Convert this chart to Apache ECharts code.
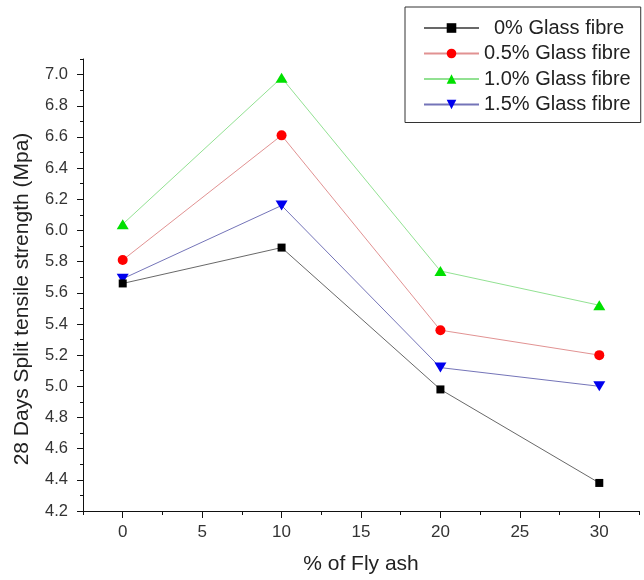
<!DOCTYPE html>
<html>
<head>
<meta charset="utf-8">
<script src="https://cdn.jsdelivr.net/npm/echarts@6/dist/echarts.min.js"></script>
<style>
html,body{margin:0;padding:0;background:#fff;}
#chart{width:644px;height:580px;}
</style>
</head>
<body>
<div id="chart"></div>
<script>
// ---- data ----
const flyAsh = [0, 10, 20, 30];
const seriesNames = ['0% Glass fibre', '0.5% Glass fibre', '1.0% Glass fibre', '1.5% Glass fibre'];
const gf00 = [5.66, 5.89, 4.98, 4.38];
const gf05 = [5.81, 6.61, 5.36, 5.20];
const gf10 = [6.04, 6.98, 5.74, 5.52];
const gf15 = [5.69, 6.16, 5.12, 5.00];
const xMajorTicks = [0, 5, 10, 15, 20, 25, 30];
const xMinorTicks = [-2.5, 2.5, 7.5, 12.5, 17.5, 22.5, 27.5, 32.5];
const yMajorTicks = [4.2, 4.4, 4.6, 4.8, 5.0, 5.2, 5.4, 5.6, 5.8, 6.0, 6.2, 6.4, 6.6, 6.8, 7.0];
const yMinorTicks = [4.3, 4.5, 4.7, 4.9, 5.1, 5.3, 5.5, 5.7, 5.9, 6.1, 6.3, 6.5, 6.7, 6.9, 7.1];

const FONT = '"Liberation Sans", Arial, sans-serif';
const axisColor = '#111';

function pairs(vals) { return flyAsh.map((x, i) => [x, vals[i]]); }

const chart = echarts.init(document.getElementById('chart'), null, {renderer: 'canvas'});

const styles = [
  {symbol: 'rect', size: 8, color: '#000000', line: 'rgba(40,40,40,0.7)'},
  {symbol: 'circle', size: 10, color: '#ff0000', line: 'rgba(215,110,110,0.75)'},
  {symbol: 'triangle', size: [12, 10], color: '#00e000', line: 'rgba(110,215,110,0.75)'},
  {symbol: 'path://M0,0L10,0L5,9Z', size: [12, 10], color: '#0000ee', line: 'rgba(70,70,160,0.75)'}
];
const dataSets = [gf00, gf05, gf10, gf15];

const option = {
  backgroundColor: '#ffffff',
  animation: false,
  textStyle: {fontFamily: FONT},
  grid: {left: 83, right: 5, top: 59, bottom: 67.5, containLabel: false},
  legend: {
    orient: 'vertical',
    left: 405,
    top: 7,
    padding: [11, 10, 8, 18],
    itemWidth: 55,
    itemHeight: 12,
    itemGap: 5.5,
    borderColor: '#333',
    borderWidth: 1,
    backgroundColor: '#fff',
    data: seriesNames,
    formatter: function (name) {
      return name === seriesNames[0] ? '{p|}' + name : name;
    },
    textStyle: {
      fontFamily: FONT, fontSize: 20, lineHeight: 20, color: '#222',
      rich: {p: {width: 10, fontSize: 20}}
    }
  },
  xAxis: [
    {
      type: 'value',
      min: -2.5, max: 32.5,
      position: 'bottom',
      name: '% of Fly ash',
      nameLocation: 'middle',
      nameGap: 43,
      nameTextStyle: {fontFamily: FONT, fontSize: 21, color: '#222'},
      axisLine: {show: true, onZero: false, lineStyle: {color: axisColor, width: 1}},
      axisTick: {show: true, customValues: xMajorTicks, length: 7, lineStyle: {color: axisColor}},
      axisLabel: {show: true, customValues: xMajorTicks, margin: 13, fontFamily: FONT, fontSize: 17, color: '#333'},
      splitLine: {show: false}
    },
    {
      type: 'value',
      min: -2.5, max: 32.5,
      position: 'bottom',
      axisLine: {show: false, onZero: false},
      axisTick: {show: true, customValues: xMinorTicks, length: 4, lineStyle: {color: axisColor}},
      axisLabel: {show: false},
      splitLine: {show: false}
    }
  ],
  yAxis: [
    {
      type: 'value',
      min: 4.2, max: 7.1,
      position: 'left',
      name: '28 Days Split tensile strength (Mpa)',
      nameLocation: 'middle',
      nameGap: 50,
      nameTextStyle: {fontFamily: FONT, fontSize: 21, color: '#222', padding: [0, 28, 0, 0]},
      axisLine: {show: true, onZero: false, lineStyle: {color: axisColor, width: 1}},
      axisTick: {show: true, customValues: yMajorTicks, length: 6, lineStyle: {color: axisColor}},
      axisLabel: {
        show: true, customValues: yMajorTicks, margin: 15, fontFamily: FONT, fontSize: 16.5, color: '#333',
        formatter: v => Number(v).toFixed(1)
      },
      splitLine: {show: false}
    },
    {
      type: 'value',
      min: 4.2, max: 7.1,
      position: 'left',
      axisLine: {show: false, onZero: false},
      axisTick: {show: true, customValues: yMinorTicks, length: 3, lineStyle: {color: axisColor}},
      axisLabel: {show: false},
      splitLine: {show: false}
    }
  ],
  series: seriesNames.map((name, i) => ({
    name: name,
    type: 'line',
    xAxisIndex: 0,
    yAxisIndex: 0,
    data: pairs(dataSets[i]),
    symbol: styles[i].symbol,
    symbolSize: styles[i].size,
    showAllSymbol: true,
    itemStyle: {color: styles[i].color, borderWidth: 0},
    lineStyle: {color: styles[i].line, width: 1},
    emphasis: {disabled: true},
    z: 10 - i
  }))
};

chart.setOption(option);
</script>
</body>
</html>
